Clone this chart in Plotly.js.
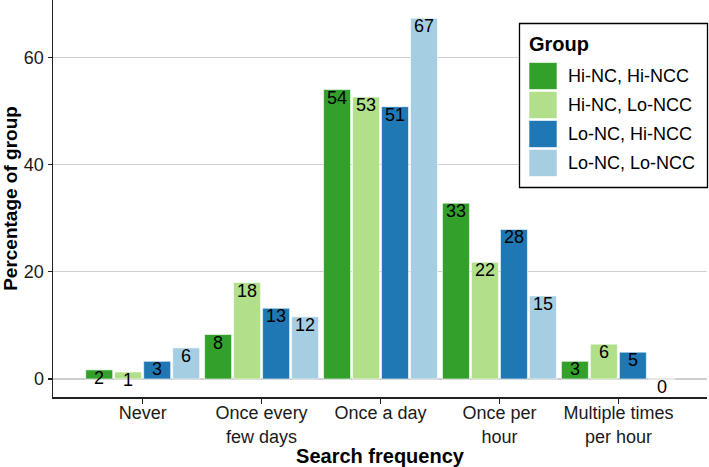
<!DOCTYPE html>
<html>
<head>
<meta charset="utf-8">
<script src="https://cdn.plot.ly/plotly-3.0.1.min.js"></script>
<style>html,body{margin:0;padding:0;background:#fff;}#chart{width:709px;height:467px;}</style>
</head>
<body>
<div id="chart"></div>
<script>
// ---- Data ----
const categories = ["Never", "Once every<br>few days", "Once a day", "Once per<br>hour", "Multiple times<br>per hour"];
const groups = ["Hi-NC, Hi-NCC", "Hi-NC, Lo-NCC", "Lo-NC, Hi-NCC", "Lo-NC, Lo-NCC"];
const hiHi = [1.7, 8.3, 54.0, 32.8, 3.3];
const hiLo = [1.3, 18.0, 52.6, 21.8, 6.5];
const loHi = [3.3, 13.2, 50.8, 27.9, 5.0];
const loLo = [5.8, 11.6, 67.3, 15.5, 0.0];
const labelsHiHi = ["2", "8", "54", "33", "3"];
const labelsHiLo = ["1", "18", "53", "22", "6"];
const labelsLoHi = ["3", "13", "51", "28", "5"];
const labelsLoLo = ["6", "12", "67", "15", "0"];
const yTicks = [0, 20, 40, 60];

// ---- Styles ----
const colors = ["#33a02c", "#b2df8a", "#1f78b4", "#a6cee3"];
const FONT = "Liberation Sans, Arial, sans-serif";
const series = [hiHi, hiLo, loHi, loLo];
const labels = [labelsHiHi, labelsHiLo, labelsLoHi, labelsLoLo];

const L = 53, R = 2, T = 0, B = 70, Wd = 709, Ht = 467;
const PW = Wd - L - R, PH = Ht - T - B;
const px = x => (x - L) / PW;
const py = y => 1 - (y - T) / PH;

const bargap = 0.025, bargroupgap = 0.07;
const slot = (1 - bargap) / groups.length;

const traces = series.map((vals, i) => ({
  type: "bar",
  name: groups[i],
  x: categories,
  y: vals,
  marker: {color: colors[i], line: {color: "#ffffff", width: 0.6}},
  showlegend: false,
  hoverinfo: "none"
}));

const annotations = [];
series.forEach((vals, i) => {
  vals.forEach((v, j) => {
    annotations.push({
      x: j + (i - (groups.length - 1) / 2) * slot,
      y: v, xref: "x", yref: "y",
      text: labels[i][j], showarrow: false,
      yanchor: "top", xanchor: "center", yshift: 4,
      font: {family: FONT, size: 18, color: "#000"}
    });
  });
});

// custom legend
const shapes = [];
const legBox = {x0: 519.5, x1: 707.5, y0: 23.5, y1: 187.5};
shapes.push({type: "rect", xref: "paper", yref: "paper",
  x0: px(legBox.x0), x1: px(legBox.x1), y0: py(legBox.y0), y1: py(legBox.y1),
  line: {color: "#000", width: 1.3}, fillcolor: "#fff", layer: "above"});
annotations.push({xref: "paper", yref: "paper", x: px(527), y: py(44),
  xanchor: "left", yanchor: "middle", showarrow: false,
  text: "<b>Group</b>", font: {family: FONT, size: 20, color: "#000"}});
groups.forEach((g, i) => {
  const cy = 76 + i * 29;
  shapes.push({type: "rect", xref: "paper", yref: "paper",
    x0: px(529), x1: px(557), y0: py(cy - 13.5), y1: py(cy + 13.5),
    line: {color: "#fff", width: 0.6}, fillcolor: colors[i], layer: "above"});
  annotations.push({xref: "paper", yref: "paper", x: px(566), y: py(cy),
    xanchor: "left", yanchor: "middle", showarrow: false,
    text: g, font: {family: FONT, size: 18, color: "#000"}});
});

const layout = {
  width: Wd, height: Ht,
  margin: {l: L, r: R, t: T, b: B, autoexpand: false},
  paper_bgcolor: "#fff", plot_bgcolor: "#fff",
  barmode: "group", bargap: bargap, bargroupgap: bargroupgap,
  font: {family: FONT, size: 18, color: "#1a1a1a"},
  xaxis: {
    type: "category", range: [-0.754, 4.745], automargin: false,
    showline: true, linecolor: "#222", linewidth: 1.5, mirror: false,
    ticks: "outside", ticklen: 5, tickcolor: "#222", tickwidth: 1.2,
    ticklabelstandoff: -6,
    showgrid: false, zeroline: false,
    tickfont: {family: FONT, size: 18, color: "#1a1a1a"},
    title: {text: "<b>Search frequency</b>", font: {family: FONT, size: 20, color: "#000"}, standoff: 0}
  },
  yaxis: {
    range: [-3.36, 70.7], automargin: false,
    tickvals: yTicks, ticktext: yTicks.map(String),
    showline: true, linecolor: "#222", linewidth: 1.5,
    ticks: "outside", ticklen: 4, tickcolor: "#222", tickwidth: 1.2,
    showgrid: true, gridcolor: "#cfcfcf", gridwidth: 1.2, zeroline: false,
    tickfont: {family: FONT, size: 18, color: "#1a1a1a"},
    title: {text: "<b>Percentage of group</b>", font: {family: FONT, size: 19, color: "#000"}, standoff: 4}
  },
  shapes: shapes,
  annotations: annotations
};

Plotly.newPlot("chart", traces, layout, {displayModeBar: false, staticPlot: true});
</script>
</body>
</html>
